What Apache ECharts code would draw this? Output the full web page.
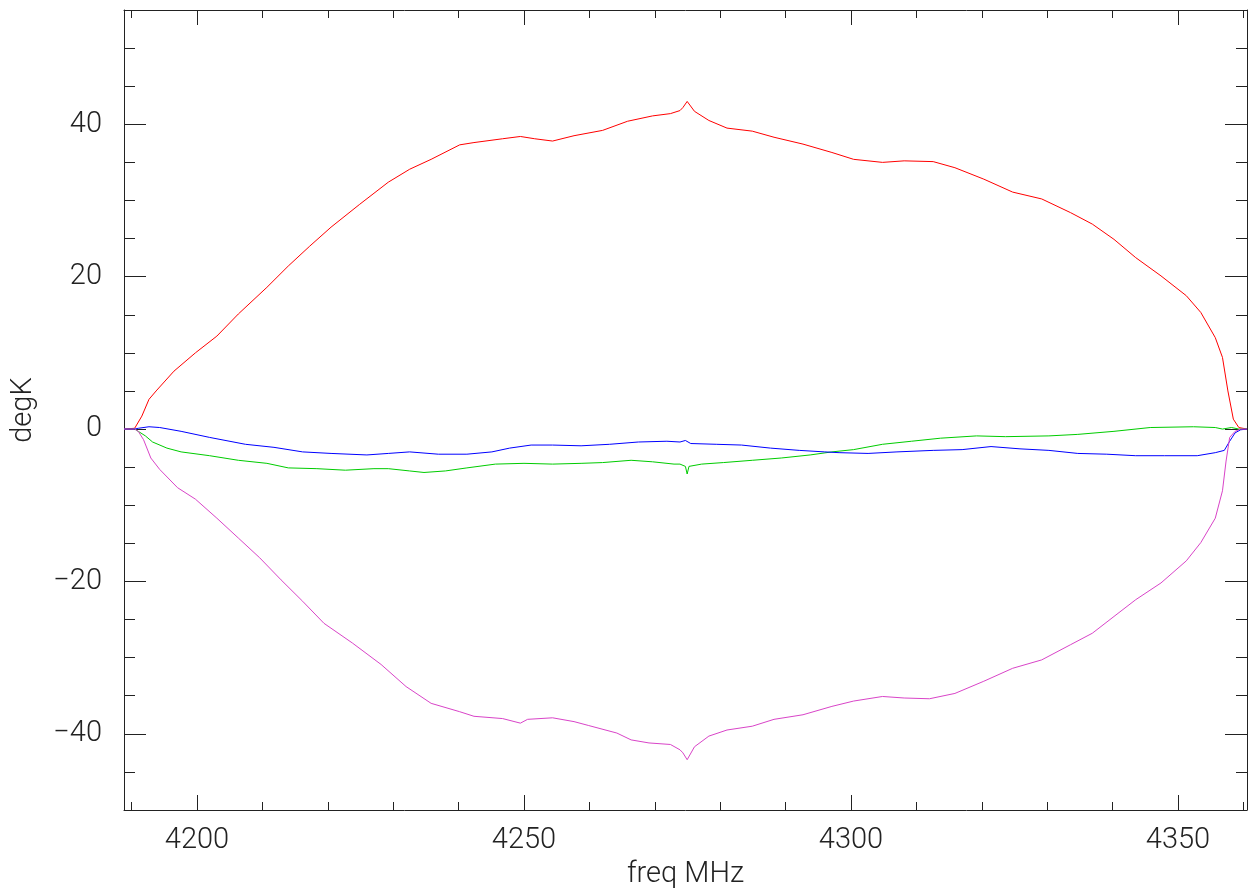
<!DOCTYPE html>
<html>
<head>
<meta charset="utf-8">
<script src="https://cdn.jsdelivr.net/npm/echarts@6/dist/echarts.min.js"></script>
<style>
html,body{margin:0;padding:0;background:#fff;}
#chart{width:1252px;height:895px;}
</style>
</head>
<body>
<div id="chart"></div>
<script>
// ---- axis ranges & ticks ----
var xMin = 4188.84, xMax = 4360.55;
var yMin = -50, yMax = 55;
var xMajorTicks = [4200, 4250, 4300, 4350];
var xMinorTicks = [4190, 4210, 4220, 4230, 4240, 4260, 4270, 4280, 4290, 4310, 4320, 4330, 4340, 4360];
var yMajorTicks = [-40, -20, 0, 20, 40];
var yMinorTicks = [-50, -45, -35, -30, -25, -15, -10, -5, 5, 10, 15, 25, 30, 35, 45, 50, 55];
var xTitle = 'freq MHz';
var yTitle = 'degK';

// ---- red series ----
var redFreq = [4188.84, 4190.47, 4191.57, 4192.66, 4193.75, 4196.48, 4199.76, 4203.04, 4206.32, 4210.69, 4213.96, 4217.23, 4220.50, 4224.88, 4229.25, 4232.52, 4235.80, 4240.17, 4242.35, 4246.73, 4249.45, 4251.64, 4254.37, 4257.65, 4262.02, 4265.84, 4269.66, 4272.39, 4273.85, 4274.30, 4274.95, 4276.07, 4278.27, 4281.04, 4284.91, 4288.23, 4292.66, 4297.08, 4300.40, 4304.82, 4308.13, 4312.57, 4315.89, 4320.31, 4324.72, 4329.16, 4333.58, 4336.90, 4340.21, 4343.53, 4347.40, 4351.27, 4353.49, 4355.70, 4356.80, 4357.63, 4358.46, 4359.30, 4360.55];
var redVal = [0, 0.1, 1.7, 3.9, 5.0, 7.6, 10.0, 12.2, 15.1, 18.6, 21.4, 24.0, 26.5, 29.5, 32.4, 34.1, 35.4, 37.3, 37.6, 38.1, 38.4, 38.1, 37.8, 38.5, 39.2, 40.4, 41.1, 41.4, 41.8, 42.2, 43.0, 41.7, 40.5, 39.5, 39.1, 38.3, 37.4, 36.3, 35.4, 35.0, 35.2, 35.1, 34.3, 32.8, 31.1, 30.2, 28.4, 26.9, 24.9, 22.5, 20.1, 17.5, 15.3, 12.0, 9.4, 5.0, 1.3, 0.2, 0];

// ---- magenta series ----
var magFreq = [4188.84, 4190.47, 4191.02, 4191.83, 4192.94, 4194.30, 4197.03, 4199.76, 4203.04, 4206.32, 4209.59, 4212.86, 4216.15, 4219.42, 4223.79, 4228.15, 4231.97, 4235.80, 4240.17, 4242.35, 4246.73, 4249.45, 4250.55, 4254.37, 4257.65, 4259.83, 4264.20, 4266.38, 4269.11, 4272.39, 4273.85, 4274.30, 4274.95, 4276.07, 4278.27, 4281.04, 4284.91, 4288.23, 4292.66, 4297.08, 4300.40, 4304.82, 4308.13, 4312.00, 4315.89, 4320.31, 4324.72, 4329.16, 4333.58, 4336.90, 4340.21, 4343.53, 4347.40, 4351.27, 4353.49, 4355.70, 4356.80, 4357.35, 4357.90, 4358.73, 4359.57, 4360.55];
var magVal = [0, 0, -0.3, -1.4, -3.8, -5.3, -7.7, -9.2, -11.7, -14.3, -16.9, -19.8, -22.6, -25.5, -28.1, -30.9, -33.8, -36.0, -37.1, -37.7, -38.0, -38.6, -38.1, -37.9, -38.4, -38.9, -39.9, -40.8, -41.2, -41.4, -42.1, -42.5, -43.4, -41.7, -40.3, -39.5, -39.0, -38.1, -37.5, -36.4, -35.7, -35.1, -35.3, -35.4, -34.7, -33.1, -31.4, -30.3, -28.3, -26.8, -24.6, -22.4, -20.2, -17.3, -14.9, -11.7, -8.1, -4.2, -1.1, -0.3, 0, 0];

// ---- blue series ----
var blueFreq = [4188.84, 4190.47, 4191.02, 4192.66, 4194.30, 4197.57, 4201.94, 4207.40, 4211.77, 4216.15, 4220.50, 4225.98, 4229.25, 4232.52, 4236.90, 4241.27, 4245.09, 4247.81, 4251.09, 4254.37, 4258.73, 4263.10, 4267.48, 4271.85, 4273.85, 4274.68, 4275.50, 4279.39, 4283.26, 4287.68, 4292.09, 4295.98, 4298.18, 4302.61, 4307.03, 4312.57, 4316.99, 4321.41, 4325.84, 4330.26, 4334.68, 4339.11, 4343.53, 4347.95, 4352.94, 4355.70, 4357.08, 4357.90, 4358.73, 4359.57, 4360.55];
var blueVal = [0, 0, 0.1, 0.3, 0.2, -0.3, -1.1, -2.0, -2.4, -3.0, -3.2, -3.4, -3.2, -3.0, -3.3, -3.3, -3.0, -2.5, -2.1, -2.1, -2.2, -2.0, -1.7, -1.6, -1.7, -1.5, -1.9, -2.0, -2.1, -2.5, -2.8, -3.0, -3.1, -3.2, -3.0, -2.8, -2.7, -2.3, -2.6, -2.8, -3.2, -3.3, -3.5, -3.5, -3.5, -3.1, -2.8, -1.6, -0.5, -0.1, 0];

// ---- green series ----
var greenFreq = [4188.84, 4190.47, 4191.02, 4192.11, 4193.21, 4195.40, 4197.57, 4201.94, 4206.32, 4210.69, 4213.96, 4218.33, 4222.69, 4227.06, 4229.25, 4232.52, 4234.71, 4237.98, 4241.27, 4245.63, 4250.00, 4254.37, 4258.73, 4262.02, 4266.38, 4269.66, 4272.94, 4273.85, 4274.68, 4274.95, 4275.23, 4277.17, 4280.49, 4284.91, 4289.34, 4293.76, 4297.08, 4300.40, 4304.82, 4309.25, 4313.67, 4319.20, 4323.62, 4330.26, 4334.68, 4340.21, 4345.75, 4352.38, 4355.70, 4356.80, 4358.18, 4359.30, 4360.55];
var greenVal = [0, 0, -0.3, -0.9, -1.7, -2.5, -3.0, -3.5, -4.1, -4.5, -5.1, -5.2, -5.4, -5.2, -5.2, -5.5, -5.7, -5.5, -5.1, -4.6, -4.5, -4.6, -4.5, -4.4, -4.1, -4.3, -4.6, -4.6, -4.9, -5.9, -4.9, -4.6, -4.4, -4.1, -3.8, -3.4, -3.0, -2.7, -2.0, -1.6, -1.2, -0.9, -1.0, -0.9, -0.7, -0.3, 0.2, 0.3, 0.2, 0, 0.2, 0, 0];

function pairs(f, v) { return f.map(function (x, i) { return [x, v[i]]; }); }
function fmtY(v) { return v < 0 ? '\u2212' + Math.abs(v) : String(v); }
function fmtX(v) { return String(v); }

var FONT = 'Roboto';
var AX = '#222';

function xAx(pos, ticks, len, showLine, showLabel) {
  return {
    type: 'value', position: pos, min: xMin, max: xMax, gridIndex: 0,
    axisLine: { show: showLine, onZero: false, lineStyle: { color: AX, width: 1 } },
    axisTick: { show: true, inside: true, length: len, customValues: ticks, lineStyle: { color: AX, width: 1 } },
    axisLabel: showLabel ? { show: true, customValues: ticks, margin: 16, color: '#222', fontFamily: FONT, fontWeight: 300, fontSize: 29, formatter: fmtX } : { show: false },
    splitLine: { show: false },
    name: showLabel ? xTitle : '',
    nameLocation: 'middle', nameGap: 49,
    nameTextStyle: { color: '#222', fontFamily: FONT, fontWeight: 300, fontSize: 29 }
  };
}
function yAx(pos, ticks, len, showLine, showLabel) {
  return {
    type: 'value', position: pos, min: yMin, max: yMax, gridIndex: 0,
    axisLine: { show: showLine, onZero: false, lineStyle: { color: AX, width: 1 } },
    axisTick: { show: true, inside: true, length: len, customValues: ticks, lineStyle: { color: AX, width: 1 } },
    axisLabel: showLabel ? { show: true, customValues: ticks, margin: 22, color: '#222', fontFamily: FONT, fontWeight: 300, fontSize: 29, formatter: fmtY } : { show: false },
    splitLine: { show: false },
    name: showLabel ? yTitle : '',
    nameLocation: 'middle', nameGap: 86, nameRotate: 90,
    nameTextStyle: { color: '#222', fontFamily: FONT, fontWeight: 300, fontSize: 29 }
  };
}

var chart = echarts.init(document.getElementById('chart'), null, { renderer: 'canvas' });
function line(name, f, v, color) {
  return {
    name: name, type: 'line', xAxisIndex: 0, yAxisIndex: 0,
    data: pairs(f, v), showSymbol: false, symbol: 'none', animation: false,
    lineStyle: { color: color, width: 1 }, silent: true, clip: true
  };
}
chart.setOption({
  animation: false,
  backgroundColor: '#fff',
  grid: { left: 124, right: 5, top: 10, bottom: 85, containLabel: false },
  xAxis: [
    xAx('bottom', xMajorTicks, 15, true, true),
    xAx('bottom', xMinorTicks, 8, false, false),
    xAx('top', xMajorTicks, 15, true, false),
    xAx('top', xMinorTicks, 8, false, false)
  ],
  yAxis: [
    yAx('left', yMajorTicks, 22, true, true),
    yAx('left', yMinorTicks, 11, false, false),
    yAx('right', yMajorTicks, 22, true, false),
    yAx('right', yMinorTicks, 11, false, false)
  ],
  series: [
    line('red', redFreq, redVal, '#ff0000'),
    line('green', greenFreq, greenVal, '#00cc00'),
    line('blue', blueFreq, blueVal, '#0000ff'),
    line('magenta', magFreq, magVal, '#d944c8')
  ]
});
</script>
</body>
</html>
